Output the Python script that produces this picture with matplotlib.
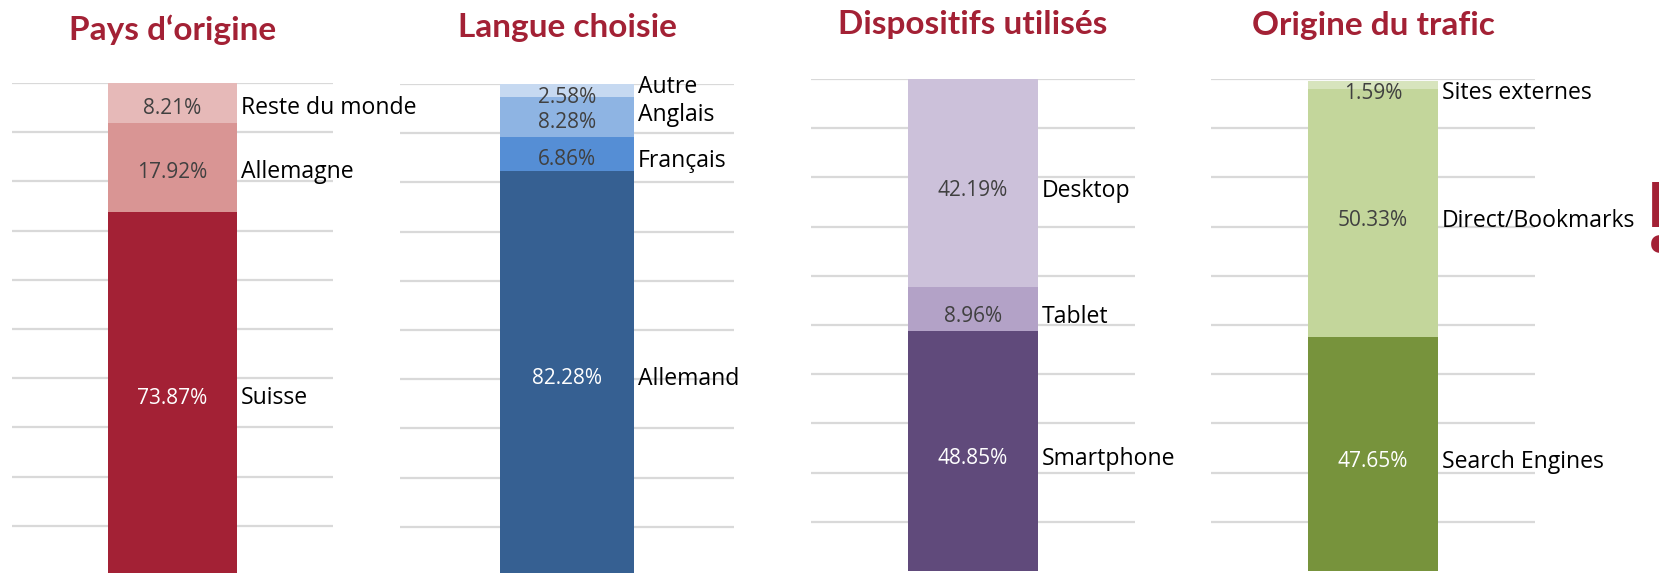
import matplotlib
matplotlib.use("Agg")
import matplotlib.pyplot as plt

# ---- data ----
titles = ["Pays d\u2018origine", "Langue choisie", "Dispositifs utilisés", "Origine du trafic"]

pays_labels = ["Suisse", "Allemagne", "Reste du monde"]
pays_values = [73.87, 17.92, 8.21]

langue_labels = ["Allemand", "Français", "Anglais", "Autre"]
langue_values = [82.28, 6.86, 8.28, 2.58]

disp_labels = ["Smartphone", "Tablet", "Desktop"]
disp_values = [48.85, 8.96, 42.19]

trafic_labels = ["Search Engines", "Direct/Bookmarks", "Sites externes"]
trafic_values = [47.65, 50.33, 1.59]

# ---- styles ----
pays_colors = ["#A32135", "#D99594", "#E6B9B8"]
langue_colors = ["#366092", "#558ED5", "#8EB4E3", "#C6D9F1"]
disp_colors = ["#604A7B", "#B3A2C7", "#CCC1DA"]
trafic_colors = ["#77933C", "#C3D69B", "#D7E4BD"]
pays_txt = ["white", "#404040", "#404040"]
langue_txt = ["white", "#404040", "#404040", "#404040"]
disp_txt = ["white", "#404040", "#404040"]
trafic_txt = ["white", "#404040", "#404040"]

# vertical nudges (in % units) for category labels / value labels
langue_cat_nudge = [0, -0.3, 1.4, 1.6]
langue_val_nudge = [0, 0, 0.0, -0.4]

TITLE_COLOR = "#A32135"
TITLE_FONT = "Lato"
FONT = "Open Sans"

W, H = 1659, 573
fig = plt.figure(figsize=(W / 100, H / 100), dpi=100)

# panel geometry in pixels: (left, right, top_px_at_100, title_baseline_px, label_shift_px)
panels = [
    (12, 333, 83, 40, 5),
    (400, 734, 84, 37, 5),
    (811, 1135, 79, 34, 8),
    (1211, 1535, 79, 35, 8),
]
px_per_pct = 4.92

datasets = [
    (pays_labels, pays_values, pays_colors, pays_txt, None, None),
    (langue_labels, langue_values, langue_colors, langue_txt, langue_cat_nudge, langue_val_nudge),
    (disp_labels, disp_values, disp_colors, disp_txt, None, None),
    (trafic_labels, trafic_values, trafic_colors, trafic_txt, None, None),
]

for (l, r, top, tb, shift), (labels, values, colors, txtc, cnudge, vnudge), title in zip(panels, datasets, titles):
    ymin = 100 - (H - top) / px_per_pct
    ax = fig.add_axes([l / W, 0, (r - l) / W, (H - top) / H])
    ax.patch.set_visible(False)
    ax.set_xlim(-0.5, 0.5)
    ax.set_ylim(ymin, 100)
    for s in ax.spines.values():
        s.set_visible(False)
    ax.set_xticks([])
    ax.set_yticks([])
    for g in range(10, 101, 10):
        ax.axhline(g, color="#D9D9D9", lw=1.6, zorder=0)
    dshift = shift / px_per_pct
    bottom = 0
    for i, (lab, v, c, tc) in enumerate(zip(labels, values, colors, txtc)):
        ax.bar(0, v, width=0.4, bottom=bottom, color=c, zorder=2, linewidth=0)
        mid = bottom + v / 2 - dshift
        vn = vnudge[i] if vnudge else 0
        cn = cnudge[i] if cnudge else 0
        ax.text(0, mid + vn, f"{v:.2f}%", ha="center", va="center",
                color=tc, fontsize=15, family=FONT, zorder=3)
        ax.text(0.213, mid + cn, lab, ha="left", va="center",
                color="black", fontsize=16.6, family=FONT, zorder=3, clip_on=False)
        bottom += v
    cx = (l + r) / 2
    fig.text(cx / W, 1 - tb / H, title, ha="center", va="baseline",
             fontsize=24, fontweight="bold", color=TITLE_COLOR, family=TITLE_FONT)

fig.text(1647 / W, 1 - 252 / H, "!", ha="left", va="baseline",
         fontsize=70, fontweight="heavy", color=TITLE_COLOR, family=FONT)

fig.savefig("out.png", dpi=100)
